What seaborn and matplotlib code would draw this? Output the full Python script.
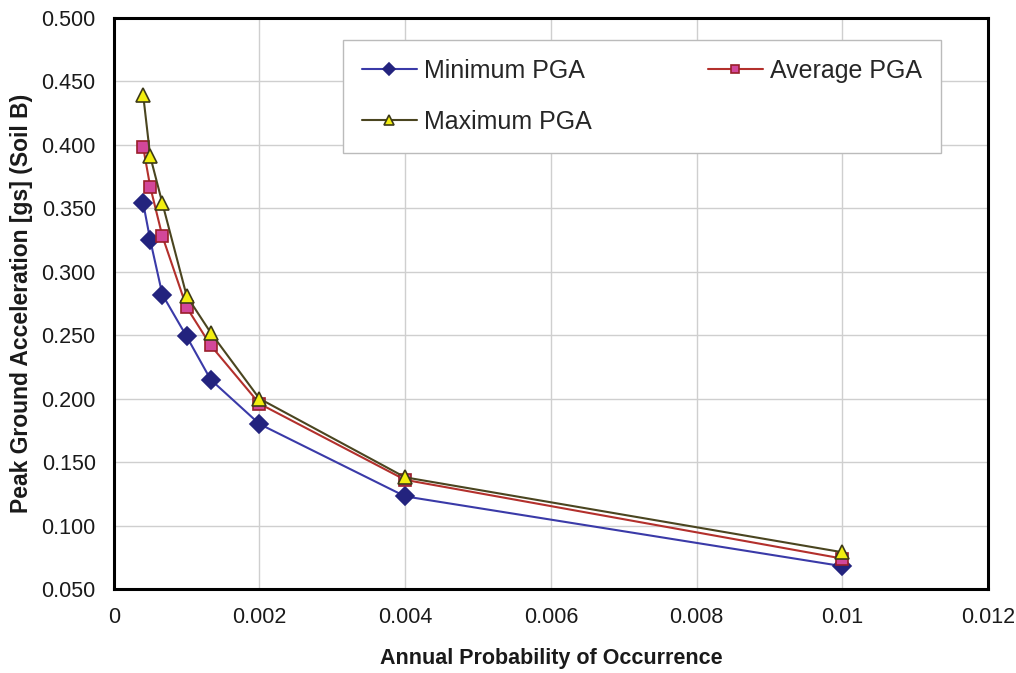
import pandas as pd
import matplotlib.pyplot as plt
import seaborn as sns

# annual probability of occurrence (return periods 2475 .. 100 yr)
prob = [0.000404, 0.0005, 0.000667, 0.001, 0.00133, 0.002, 0.004, 0.01]
pga_min = [0.354, 0.325, 0.282, 0.249, 0.215, 0.180, 0.123, 0.068]
pga_avg = [0.398, 0.367, 0.328, 0.272, 0.242, 0.196, 0.136, 0.074]
pga_max = [0.439, 0.391, 0.354, 0.281, 0.252, 0.200, 0.138, 0.079]

x_ticks = [0, 0.002, 0.004, 0.006, 0.008, 0.01, 0.012]
x_labels = ['0', '0.002', '0.004', '0.006', '0.008', '0.01', '0.012']
y_ticks = [0.05, 0.10, 0.15, 0.20, 0.25, 0.30, 0.35, 0.40, 0.45, 0.50]

df = pd.DataFrame({'prob': prob, 'Minimum PGA': pga_min,
                   'Average PGA': pga_avg, 'Maximum PGA': pga_max})

sns.set_theme(style='whitegrid')
plt.rcParams['font.family'] = ['Liberation Sans', 'DejaVu Sans']

fig = plt.figure(figsize=(10.16, 6.73), dpi=100)
ax = fig.add_axes([0.112, 0.1248, 0.8604, 0.8485])

series = [
    ('Minimum PGA', '#3a3aa8', 'D', '#23237e', '#23237e', 9),
    ('Average PGA', '#b3302c', 's', '#d2479a', '#9a1f2a', 8),
    ('Maximum PGA', '#4a4520', '^', '#f2ee10', '#3d3a18', 10),
]
for name, lc, mk, fc, ec, ms in series:
    sns.lineplot(data=df, x='prob', y=name, ax=ax, color=lc, linewidth=1.5,
                 marker=mk, markersize=ms, markerfacecolor=fc,
                 markeredgecolor=ec, markeredgewidth=1.2, label=name)

ax.set_xlim(0, 0.012)
ax.set_ylim(0.05, 0.5)
ax.set_xticks(x_ticks)
ax.set_xticklabels(x_labels)
ax.set_yticks(y_ticks)
ax.set_yticklabels([f'{v:.3f}' for v in y_ticks])
ax.tick_params(labelsize=15.5, colors='#1a1a1a', pad=7)
ax.grid(color='#cfcfcf', linewidth=1)
for s in ax.spines.values():
    s.set_color('black')
    s.set_linewidth(2.2)

ax.set_xlabel('Annual Probability of Occurrence', fontsize=15.5,
              fontweight='bold', labelpad=14, color='#1a1a1a')
ax.set_ylabel('Peak Ground Acceleration [gs] (Soil B)', fontsize=16.5,
              fontweight='bold', labelpad=6, color='#1a1a1a')

# row-wise legend order: Minimum, Average / Maximum
h, l = ax.get_legend_handles_labels()
order = [0, 2, 1]
leg = ax.legend([h[i] for i in order], [l[i] for i in order], ncol=2,
                loc='upper left', bbox_to_anchor=(0.262, 0.5, 0.684, 0.4615),
                mode='expand', fontsize=18, frameon=True, fancybox=False,
                handlelength=2.2, handletextpad=0.3, borderpad=0.75,
                labelspacing=1.1, markerscale=0.7, borderaxespad=0)
leg.get_frame().set_edgecolor('#bbbbbb')
leg.get_frame().set_linewidth(1)
leg.get_frame().set_alpha(1)

fig.savefig('out.png', dpi=100)
